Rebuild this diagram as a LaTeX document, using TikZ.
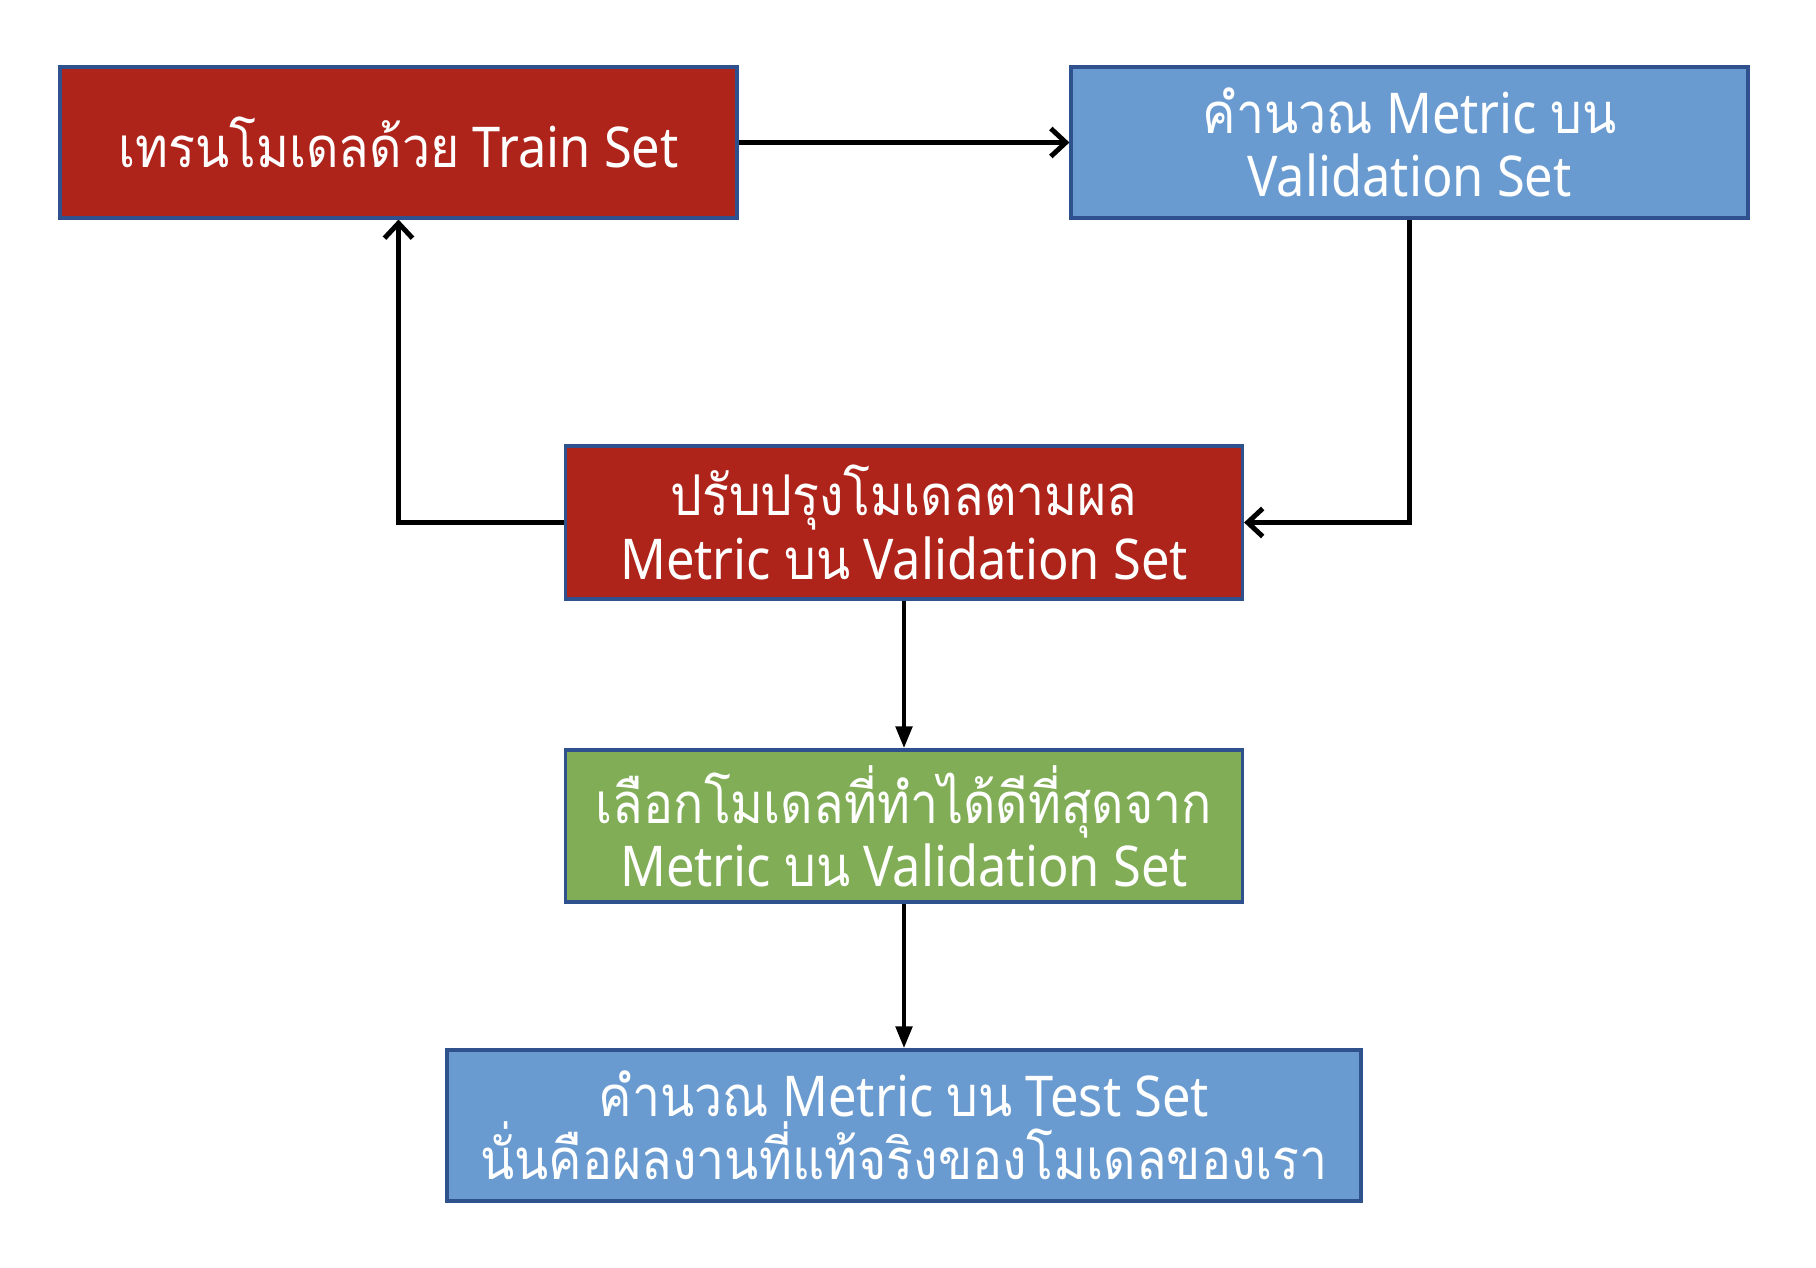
\documentclass[tikz,border=0pt]{standalone}
\usepackage{fontspec}
\setmainfont{Noto Sans}[FakeStretch=0.9]
\newfontfamily\thaifont[Script=Thai,FakeStretch=0.89]{Loma}
\usepackage{xcolor}
\usetikzlibrary{arrows.meta}

\definecolor{boxred}{RGB}{174,35,26}
\definecolor{boxblue}{RGB}{106,155,208}
\definecolor{boxgreen}{RGB}{128,173,85}
\definecolor{boxline}{RGB}{47,82,143}

\begin{document}
\begin{tikzpicture}

\tikzset{
    box/.style = {
    draw=boxline,
    line width=0.9pt,
    text=white,
    align=center,
    font=\fontsize{16}{18}\selectfont,
    minimum height=1.51cm,
    minimum width = 6.77cm
    }
}

\tikzstyle{rouge}=[fill=boxred, box]
\tikzstyle{bleu}=[fill=boxblue, box]
\tikzstyle{vert}=[fill=boxgreen, box]
\tikzstyle{fleche}=[line width=1.4pt, -{Straight Barb[length=1.5mm,width=2.8mm]}]
\tikzstyle{descente}=[line width=1.4pt, -{Triangle[length=2.2mm,width=1.6mm]}]

\useasboundingbox (0,0) rectangle (18.16,-12.68);

\node (train) [rouge] at (3.985,-1.425) {{\thaifont เทรนโมเดลด้วย} Train Set};
\node (valmetric) [bleu] at (14.095,-1.425) {{\thaifont คำนวณ} Metric {\thaifont บน}\\ Validation Set};
\node (tune) [rouge, minimum height=1.53cm] at (9.04,-5.225) {{\thaifont ปรับปรุงโมเดลตามผล}\\ Metric {\thaifont บน} Validation Set};
\node (select) [vert, minimum height=1.52cm] at (9.04,-8.26) {{\thaifont เลือกโมเดลที่ทำได้ดีที่สุดจาก}\\ Metric {\thaifont บน} Validation Set};
\node (test) [bleu, minimum width=9.14cm] at (9.04,-11.255) {{\thaifont คำนวณ} Metric {\thaifont บน} Test Set\\ {\thaifont นั่นคือผลงานที่แท้จริงของโมเดลของเรา}};

% boucle d'entrainement
\draw[fleche] (train) -- (valmetric);
\draw[fleche] (valmetric.south) |- (tune.east);
\draw[fleche] (tune.west) -| (train.south);

\draw[descente] (tune) -- (select);
\draw[descente] (select) -- (test);

\end{tikzpicture}
\end{document}
